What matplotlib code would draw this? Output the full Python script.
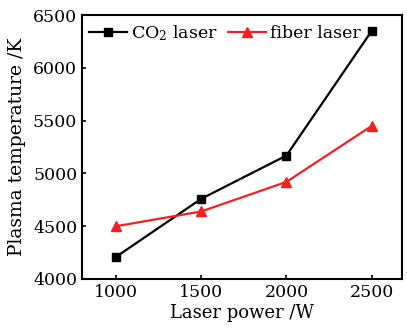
import matplotlib
matplotlib.use("Agg")
import matplotlib.pyplot as plt

power = [1000, 1500, 2000, 2500]
co2_temp = [4210, 4760, 5170, 6350]
fiber_temp = [4500, 4640, 4920, 5450]

plt.rcParams['font.family'] = ['DejaVu Serif']
plt.rcParams['mathtext.fontset'] = 'dejavuserif'

fig = plt.figure(figsize=(4.07, 3.29), dpi=100)
ax = fig.add_axes([0.2015, 0.152, 0.787, 0.802])

ax.plot(power, co2_temp, color='black', marker='s', markersize=6, lw=1.6,
        label=r'CO$_2$ laser')
ax.plot(power, fiber_temp, color='#ee2222', marker='^', markersize=7, lw=1.6,
        label='fiber laser')

ax.set_xlim(800, 2680)
ax.set_ylim(4000, 6500)
ax.set_xticks([1000, 1500, 2000, 2500])
ax.set_yticks([4000, 4500, 5000, 5500, 6000, 6500])
ax.tick_params(direction='in', length=3, width=1.2, labelsize=12.5)
for s in ax.spines.values():
    s.set_linewidth(1.5)

ax.set_xlabel('Laser power /W', fontsize=13, labelpad=2)
ax.set_ylabel('Plasma temperature /K', fontsize=13.5, labelpad=5)

ax.legend(loc='upper left', ncol=2, frameon=False, fontsize=12.5,
          handlelength=2.2, handletextpad=0.2, columnspacing=0.6,
          borderaxespad=0.0, bbox_to_anchor=(0.0, 0.995))

fig.savefig('out.png', dpi=100)
